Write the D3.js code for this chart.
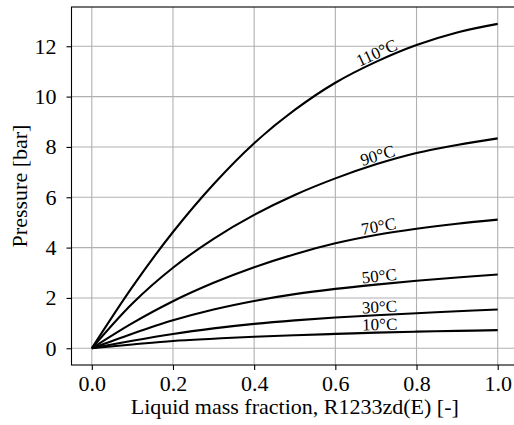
<!DOCTYPE html>
<html>
<head>
<meta charset="utf-8">
<script src="https://cdn.jsdelivr.net/npm/d3@7"></script>
<style>
  html, body { margin: 0; padding: 0; background: #fff; }
  svg { display: block; }
</style>
</head>
<body>
<div id="chart"></div>
<script>
// Liquid mass fraction samples
const massFraction = [0, 0.1, 0.2, 0.3, 0.4, 0.5, 0.6, 0.7, 0.8, 0.9, 1.0];

// Pressure [bar] for each isotherm
const p10 = [0, 0.15, 0.29, 0.38, 0.46, 0.52, 0.57, 0.62, 0.66, 0.69, 0.72];
const p30 = [0, 0.30, 0.57, 0.79, 0.97, 1.11, 1.22, 1.31, 1.39, 1.47, 1.54];
const p50 = [0, 0.58, 1.11, 1.54, 1.88, 2.15, 2.36, 2.53, 2.68, 2.81, 2.93];
const p70 = [0, 1.00, 1.87, 2.60, 3.22, 3.74, 4.17, 4.50, 4.75, 4.95, 5.11];
const p90 = [0, 1.78, 3.20, 4.35, 5.30, 6.09, 6.75, 7.31, 7.76, 8.08, 8.34];
const p110 = [0, 2.44, 4.62, 6.52, 8.15, 9.47, 10.55, 11.38, 12.05, 12.55, 12.89];

const seriesLabels = ["10°C", "30°C", "50°C", "70°C", "90°C", "110°C"];
const seriesValues = [p10, p30, p50, p70, p90, p110];

const xTicks = [0.0, 0.2, 0.4, 0.6, 0.8, 1.0];
const yTicks = [0, 2, 4, 6, 8, 10, 12];

const width = 514, height = 425;
const margin = { top: 7, right: -4, bottom: 60, left: 71.5 };
const plotW = width - margin.left - margin.right;
const plotH = height - margin.top - margin.bottom;

const svg = d3.select("#chart").append("svg")
    .attr("width", width)
    .attr("height", height);

const g = svg.append("g")
    .attr("transform", `translate(${margin.left},${margin.top})`);

const x = d3.scaleLinear().domain([-0.05, 1.05]).range([0, plotW]);
const y = d3.scaleLinear().domain([-0.665, 13.56]).range([plotH, 0]);

const font = "'Liberation Serif', 'Times New Roman', serif";

// grid
g.append("g")
    .selectAll("line")
    .data(xTicks)
    .join("line")
    .attr("x1", d => x(d)).attr("x2", d => x(d))
    .attr("y1", 0).attr("y2", plotH)
    .attr("stroke", "#b0b0b0")
    .attr("stroke-width", 1.1);

g.append("g")
    .selectAll("line")
    .data(yTicks)
    .join("line")
    .attr("x1", 0).attr("x2", plotW)
    .attr("y1", d => y(d)).attr("y2", d => y(d))
    .attr("stroke", "#b0b0b0")
    .attr("stroke-width", 1.1);

// curves
const line = d3.line()
    .x((d, i) => x(massFraction[i]))
    .y(d => y(d))
    .curve(d3.curveCatmullRom.alpha(0.5));

seriesValues.forEach(vals => {
    g.append("path")
        .datum(vals)
        .attr("d", line)
        .attr("fill", "none")
        .attr("stroke", "#000")
        .attr("stroke-width", 2.1);
});

// inline labels near x = 0.71
const labelAt = 0.71;
seriesValues.forEach((vals, k) => {
    const interp = d3.scaleLinear().domain(massFraction).range(vals);
    const lx = x(labelAt);
    const ly = y(interp(labelAt));
    const dx = x(labelAt + 0.1) - x(labelAt - 0.1);
    const dy = y(interp(labelAt + 0.1)) - y(interp(labelAt - 0.1));
    const angle = Math.atan2(dy, dx) * 180 / Math.PI;
    g.append("text")
        .attr("transform", `translate(${lx},${ly}) rotate(${angle})`)
        .attr("y", -2.5)
        .attr("text-anchor", "middle")
        .attr("font-family", font)
        .attr("font-size", "17px")
        .attr("fill", "#000")
        .text(seriesLabels[k]);
});

// axes
const xAxis = g.append("g")
    .attr("transform", `translate(0,${plotH})`)
    .call(d3.axisBottom(x).tickValues(xTicks).tickFormat(d3.format(".1f")).tickSizeOuter(0).tickSize(5).tickPadding(5));
const yAxis = g.append("g")
    .call(d3.axisLeft(y).tickValues(yTicks).tickSizeOuter(0).tickSize(5).tickPadding(10));

[xAxis, yAxis].forEach(a => {
    a.select(".domain").remove();
    a.selectAll("line").attr("stroke", "#000").attr("stroke-width", 1.1);
    a.selectAll("text")
        .attr("font-family", font)
        .attr("font-size", "22px")
        .attr("fill", "#000");
});

// frame
g.append("rect")
    .attr("x", 0).attr("y", 0)
    .attr("width", plotW).attr("height", plotH)
    .attr("fill", "none")
    .attr("stroke", "#000")
    .attr("stroke-width", 1.1);

// axis titles
svg.append("text")
    .attr("x", margin.left + x(0.5))
    .attr("y", 414)
    .attr("text-anchor", "middle")
    .attr("font-family", font)
    .attr("font-size", "22px")
    .text("Liquid mass fraction, R1233zd(E) [-]");

svg.append("text")
    .attr("transform", `translate(27,${margin.top + plotH / 2}) rotate(-90)`)
    .attr("text-anchor", "middle")
    .attr("font-family", font)
    .attr("font-size", "22px")
    .text("Pressure [bar]");
</script>
</body>
</html>
